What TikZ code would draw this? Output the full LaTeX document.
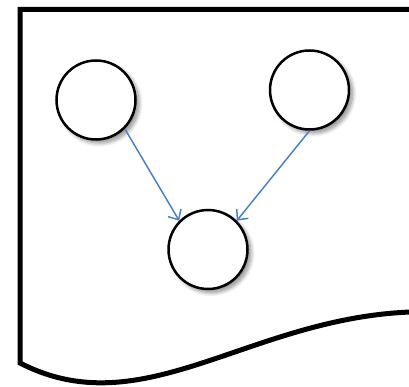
\documentclass[tikz,border=0pt]{standalone}
\usetikzlibrary{arrows.meta,shadows.blur}
\definecolor{arrowblue}{RGB}{79,129,189}
\tikzset{
  state/.style={circle,draw=black,line width=2.5pt,fill=white,minimum size=79pt,inner sep=0pt,
    blur shadow={shadow xshift=3.5pt,shadow yshift=-3.5pt,shadow blur steps=10,shadow blur radius=4pt,shadow opacity=45}},
  link/.style={draw=arrowblue,line width=1.5pt,-{Straight Barb[length=8pt,width=15pt,line width=1.5pt]}},
  docshape/.style={draw=black,line width=5pt,line join=miter}
}
\begin{document}
\begin{tikzpicture}[x=1pt,y=-1pt]
\useasboundingbox (0,0) rectangle (409,387);
\begin{scope}
\clip (0,0) rectangle (409,387);
\draw[docshape] (440,9.5) -- (20,9.5) -- (20,363)
  .. controls (150,430) and (260,305) .. (440,312);
\end{scope}
\node[state] (c1) at (96,100) {};
\node[state] (c2) at (309.5,90) {};
\node[state] (c3) at (208,249.5) {};
\draw[link] (c1.south east) -- (c3.north west);
\draw[link] (c2.south) -- (c3.north east);
\end{tikzpicture}
\end{document}
